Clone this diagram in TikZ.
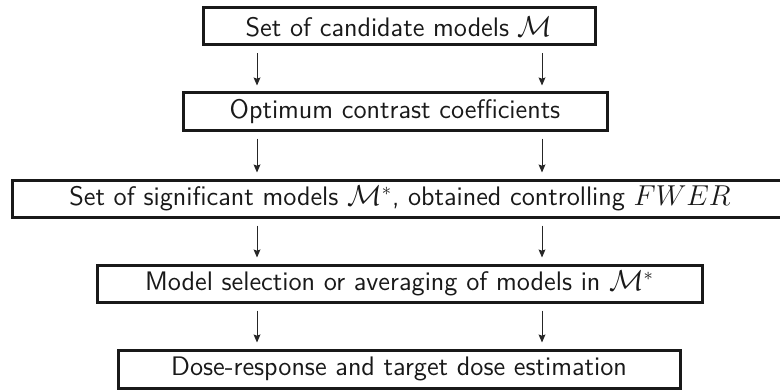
\documentclass[tikz,border=0pt]{standalone}
\usetikzlibrary{arrows.meta}
\begin{document}
\begin{tikzpicture}[x=0.5pt,y=-0.5pt,
  stagebox/.style={draw=black!90,line width=1.5pt,inner sep=0pt,
    font=\sffamily\fontsize{13.4}{15}\selectfont,text=black!90},
  flow/.style={-{Stealth[length=4pt,width=3.4pt,inset=0.6pt]},line width=0.5pt,black!85}]
\useasboundingbox (0,0) rectangle (780,390);
% one box per stage: centre, width and height in picture units
\node[stagebox,minimum width=196pt,minimum height=18.5pt] (b1) at (399,26.5)
  {Set of candidate models $\mathcal{M}$};
\node[stagebox,minimum width=212pt,minimum height=18.5pt] (b2) at (395,111.5)
  {Optimum contrast coefficients};
\node[stagebox,minimum width=388pt,minimum height=18.5pt] (b3) at (400,198.5)
  {Set of significant models $\mathcal{M}^{*}$, obtained controlling $FWER$};
\node[stagebox,minimum width=302.5pt,minimum height=18.5pt] (b4) at (399.5,283.5)
  {Model selection or averaging of models in $\mathcal{M}^{*}$};
\node[stagebox,minimum width=281pt,minimum height=19pt] (b5) at (399,369)
  {Dose-response and target dose estimation};
% the two arrow columns
\coordinate (cl) at (257,0);
\coordinate (cr) at (542,0);
\foreach \a/\b in {b1/b2,b2/b3,b3/b4,b4/b5}{
  \draw[flow] ([yshift=-3.5pt]\a.south -| cl) -- ([yshift=3pt]\b.north -| cl);
  \draw[flow] ([yshift=-3.5pt]\a.south -| cr) -- ([yshift=3pt]\b.north -| cr);
}
\end{tikzpicture}
\end{document}
